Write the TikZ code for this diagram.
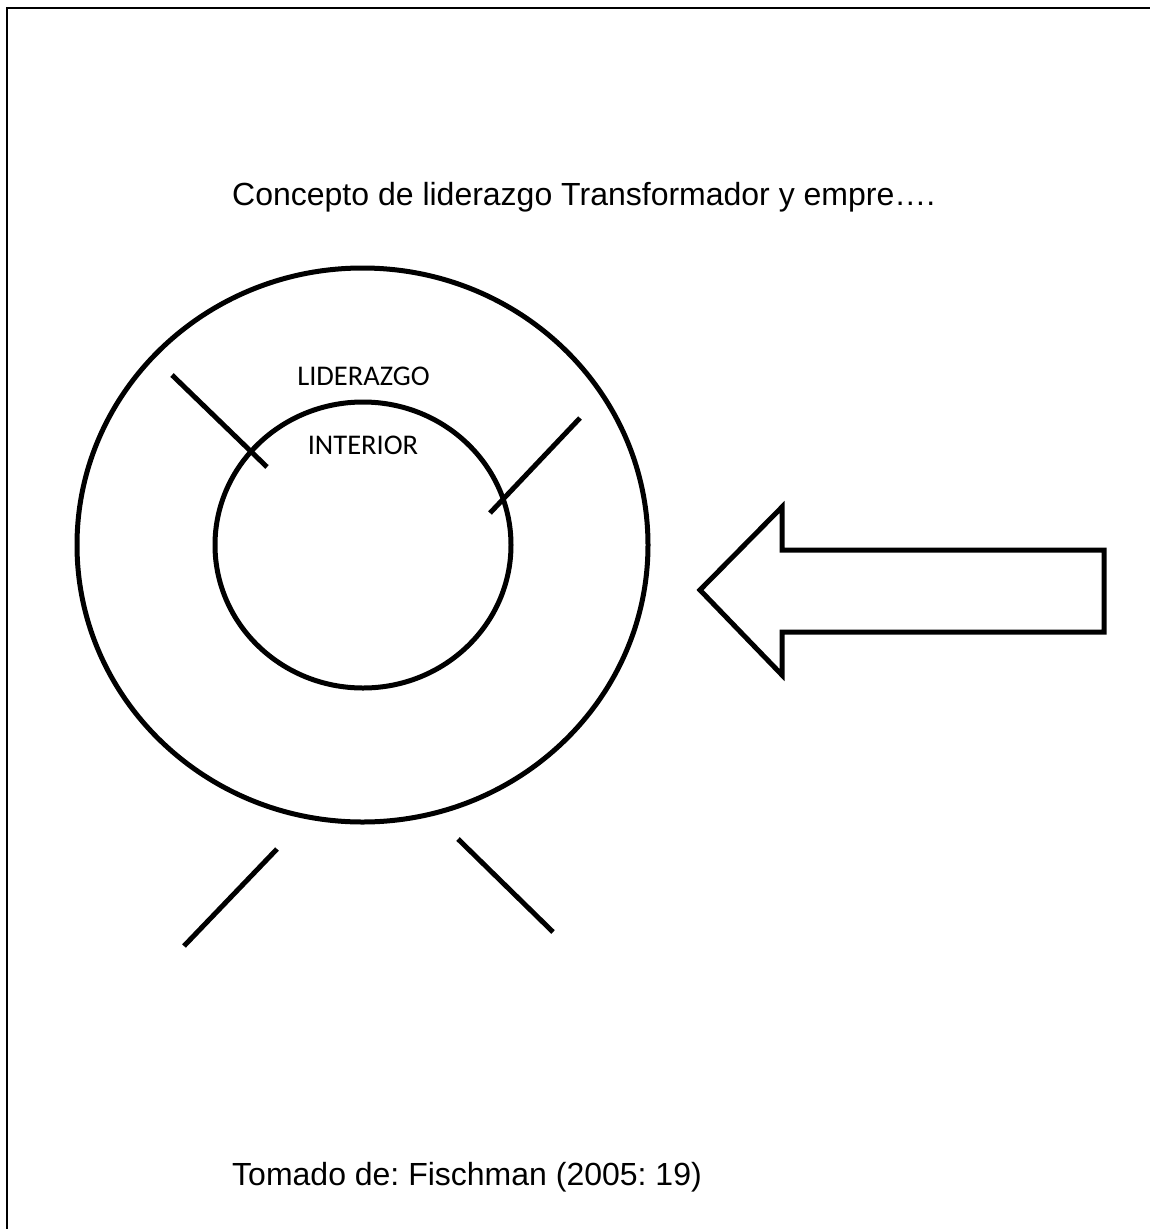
\documentclass[tikz,border=0pt]{standalone}
\usepackage{fontspec}
\setmainfont{Liberation Sans}
\newfontfamily\calfont{Carlito}
\frenchspacing
\begin{document}
\begin{tikzpicture}[x=1pt,y=-1pt,
  ring/.style={line width=5pt},
  tick/.style={line width=5pt},
  frameline/.style={line width=2pt},
  bigtext/.style={inner sep=0pt,anchor=base west,font=\frenchspacing\fontsize{32}{38}\selectfont},
  ringtext/.style={inner sep=0pt,anchor=base,font=\calfont\fontsize{28.5}{34}\selectfont}]
\useasboundingbox (0,0) rectangle (1150,1229);
% frame
\draw[frameline] (7,1229) -- (7,8) -- (1150,8);
% title
\node[bigtext] (title) at (232,205) {Concepto de liderazgo Transformador y empre….};
% rings
\draw[ring] (362.5,545) ellipse [x radius=285.5, y radius=277];
\draw[ring] (363,545) ellipse [x radius=148, y radius=143];
\node[ringtext] (lid) at (363.5,385) {LIDERAZGO};
\node[ringtext] (int) at (363,454) {INTERIOR};
% ticks
\coordinate (a1) at (172,375); \coordinate (a2) at (267,467);
\coordinate (b1) at (580,418); \coordinate (b2) at (490,513);
\coordinate (c1) at (277,849); \coordinate (c2) at (184,946);
\coordinate (d1) at (458,839); \coordinate (d2) at (553,932);
\draw[tick] (a1) -- (a2);
\draw[tick] (b1) -- (b2);
\draw[tick] (c1) -- (c2);
\draw[tick] (d1) -- (d2);
% block arrow
\draw[line width=5pt,line join=miter] (700,590) -- (782,507) -- (782,550) -- (1104,550) -- (1104,632) -- (782,632) -- (782,675) -- cycle;
% source
\node[bigtext] (src) at (232,1185) {Tomado de: Fischman (2005: 19)};
\end{tikzpicture}
\end{document}
